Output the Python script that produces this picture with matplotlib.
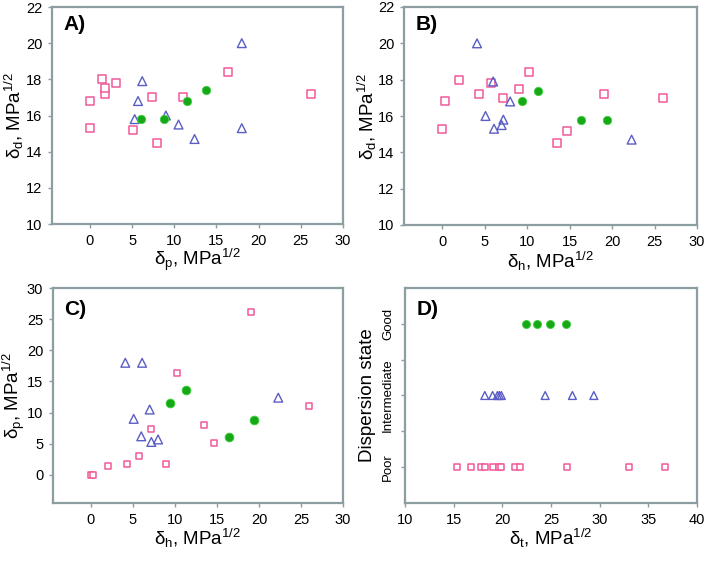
import matplotlib
matplotlib.use("Agg")
import matplotlib.pyplot as plt

plt.rcParams['font.family'] = ['Liberation Sans', 'DejaVu Sans']
plt.rcParams['mathtext.fontset'] = 'custom'
plt.rcParams['mathtext.rm'] = 'Liberation Sans'
plt.rcParams['mathtext.it'] = 'Liberation Sans'
plt.rcParams['mathtext.bf'] = 'Liberation Sans:bold'

# Poor dispersion solvents (pink squares)
poor_dd = [15.3, 16.8, 18.0, 17.2, 17.5, 17.8, 17.0, 18.4, 14.5, 15.2, 17.2, 17.0]
poor_dp = [0.0, 0.0, 1.4, 1.8, 1.8, 3.1, 7.3, 16.4, 8.0, 5.1, 26.2, 11.0]
poor_dh = [0.0, 0.3, 2.0, 4.3, 9.0, 5.7, 7.1, 10.2, 13.5, 14.7, 19.0, 26.0]
poor_dt = [15.3, 16.8, 17.8, 18.2, 19.0, 19.7, 19.9, 21.3, 21.8, 26.6, 33.0, 36.7]

# Intermediate dispersion solvents (blue triangles)
int_dd = [20.0, 14.7, 15.3, 17.9, 16.8, 16.0, 15.8, 15.5]
int_dp = [18.0, 12.4, 18.0, 6.2, 5.7, 9.0, 5.3, 10.5]
int_dh = [4.1, 22.3, 6.1, 6.0, 8.0, 5.1, 7.2, 7.0]
int_dt = [27.2, 29.4, 24.4, 19.9, 19.5, 19.0, 18.2, 19.7]

# Good dispersion solvents (green circles)
good_dd = [16.8, 17.4, 15.8, 15.8]
good_dp = [11.5, 13.7, 6.1, 8.8]
good_dh = [9.4, 11.3, 16.4, 19.4]
good_dt = [22.4, 24.9, 23.6, 26.5]

state_labels = ['Poor', 'Intermediate', 'Good']
state_levels = [1, 2, 3]

PINK = '#f05a98'
BLUE = '#5a5ec4'
GREEN = '#17a817'
GREEN_EDGE = '#3fcf3f'
SPINE = '#8d9ea3'

W, H = 708, 562
fig = plt.figure(figsize=(W / 100, H / 100), dpi=100)

def make_ax(l, r, t, b):
    return fig.add_axes([l / W, 1 - b / H, (r - l) / W, (b - t) / H])

axA = make_ax(52, 343, 7, 224)
axB = make_ax(404, 697, 7, 225)
axC = make_ax(53, 343, 288, 503)
axD = make_ax(405, 697, 288, 503)

def style(ax):
    for s in ax.spines.values():
        s.set_color(SPINE)
        s.set_linewidth(1.6)
    ax.tick_params(direction='out', length=3, width=1, color=SPINE,
                   labelsize=10.5, pad=4)

def scatter3(ax, xs, ys, sq_s=28, tri_s=40, c_s=36):
    ax.scatter(xs[0], ys[0], marker='s', s=sq_s, facecolor='white',
               edgecolor=PINK, linewidth=1.1, zorder=3)
    ax.scatter(xs[1], ys[1], marker='^', s=tri_s, facecolor='none',
               edgecolor=BLUE, linewidth=1.0, zorder=4)
    ax.scatter(xs[2], ys[2], marker='o', s=c_s, facecolor=GREEN,
               edgecolor=GREEN_EDGE, linewidth=0.6, zorder=5)

def labels(ax, xl, yl, xy, yx):
    ax.set_xlabel(xl, fontsize=13.5, va='center', ha='center')
    ax.set_ylabel(yl, fontsize=13.5, va='center', ha='center')
    ax.xaxis.set_label_coords(0.5, xy)
    ax.yaxis.set_label_coords(yx, 0.5)

dd = r'$\mathrm{\delta_d}$, MPa$^{\mathrm{1/2}}$'
dp = r'$\mathrm{\delta_p}$, MPa$^{\mathrm{1/2}}$'
dh = r'$\mathrm{\delta_h}$, MPa$^{\mathrm{1/2}}$'
dt = r'$\mathrm{\delta_t}$, MPa$^{\mathrm{1/2}}$'

# A
style(axA)
scatter3(axA, [poor_dp, int_dp, good_dp], [poor_dd, int_dd, good_dd])
axA.set_xlim(-4.5, 30)
axA.set_ylim(10, 22)
axA.set_xticks([0, 5, 10, 15, 20, 25, 30])
axA.set_yticks([10, 12, 14, 16, 18, 20, 22])
labels(axA, dp, dd, -0.165, -0.13)
axA.text(0.04, 0.92, 'A)', transform=axA.transAxes, fontsize=15,
         fontweight='bold', va='center', ha='left')

# B
style(axB)
scatter3(axB, [poor_dh, int_dh, good_dh], [poor_dd, int_dd, good_dd])
axB.set_xlim(-4.5, 30)
axB.set_ylim(10, 22)
axB.set_xticks([0, 5, 10, 15, 20, 25, 30])
axB.set_yticks([10, 12, 14, 16, 18, 20, 22])
labels(axB, dh, dd, -0.165, -0.125)
axB.text(0.04, 0.92, 'B)', transform=axB.transAxes, fontsize=15,
         fontweight='bold', va='center', ha='left')

# C
style(axC)
scatter3(axC, [poor_dh, int_dh, good_dh], [poor_dp, int_dp, good_dp],
         sq_s=16, tri_s=40, c_s=40)
axC.set_xlim(-4.5, 30)
axC.set_ylim(-4.5, 30)
axC.set_xticks([0, 5, 10, 15, 20, 25, 30])
axC.set_yticks([0, 5, 10, 15, 20, 25, 30])
labels(axC, dh, dp, -0.165, -0.135)
axC.text(0.04, 0.9, 'C)', transform=axC.transAxes, fontsize=15,
         fontweight='bold', va='center', ha='left')

# D
style(axD)
scatter3(axD, [poor_dt, int_dt, good_dt],
         [[state_levels[0]] * len(poor_dt), [state_levels[1]] * len(int_dt),
          [state_levels[2]] * len(good_dt)],
         sq_s=22, tri_s=32, c_s=34)
axD.set_xlim(10, 40)
axD.set_ylim(0.5, 3.5)
axD.set_xticks([10, 15, 20, 25, 30, 35, 40])
axD.set_yticks([1.5, 2.5], minor=False)
axD.set_yticks(state_levels, minor=True)
axD.set_yticklabels(['', ''])
axD.set_yticklabels(state_labels, minor=True, rotation=90, va='center',
                    fontsize=9.5)
axD.tick_params(axis='y', which='minor', direction='out', length=3,
                width=1, color=SPINE, pad=5)
labels(axD, dt, 'Dispersion state', -0.165, -0.13)
axD.text(0.04, 0.9, 'D)', transform=axD.transAxes, fontsize=15,
         fontweight='bold', va='center', ha='left')

fig.savefig('out.png', dpi=100)
